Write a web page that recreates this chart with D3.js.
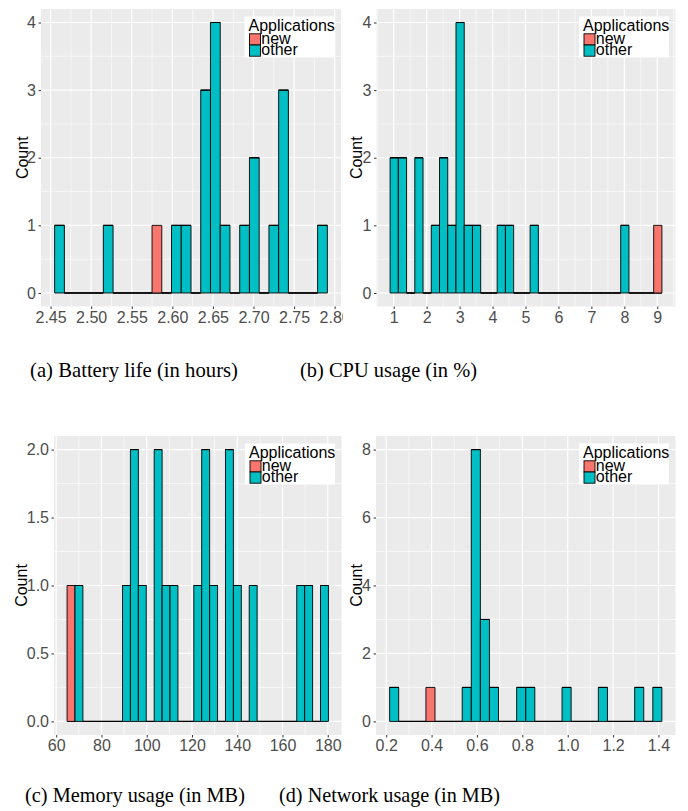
<!DOCTYPE html>
<html><head><meta charset="utf-8">
<script src="https://cdn.jsdelivr.net/npm/d3@7"></script>
<style>
body{margin:0;background:#fff}
svg text{font-family:"Liberation Sans",Arial,sans-serif}
</style></head><body>
<svg id="fig" width="688" height="811"></svg>
<script>
// histogram counts per bin (ggplot style, 2 groups)
const groups = ["new", "other"]
const colors = {new: "#F8766D", other: "#00BFC4"}

const batteryStart = 2.455, batteryWidth = 0.012
const batteryOther = [1,0,0,0,0,1,0,0,0,0,0,0,1,1,0,3,4,1,0,1,2,0,1,3,0,0,0,1]
const batteryNew   = [0,0,0,0,0,0,0,0,0,0,1,0,0,0,0,0,0,0,0,0,0,0,0,0,0,0,0,0]
const batteryXTicks = [2.45,2.50,2.55,2.60,2.65,2.70,2.75,2.80]
const batteryYTicks = [0,1,2,3,4]

const cpuStart = 0.89, cpuWidth = 0.25
const cpuOther = [2,2,0,2,0,1,2,1,4,1,1,0,0,1,1,0,0,1,0,0,0,0,0,0,0,0,0,0,1,0,0,0,0]
const cpuNew   = [0,0,0,0,0,0,0,0,0,0,0,0,0,0,0,0,0,0,0,0,0,0,0,0,0,0,0,0,0,0,0,0,1]
const cpuXTicks = [1,2,3,4,5,6,7,8,9]
const cpuYTicks = [0,1,2,3,4]

const memStart = 64.8, memWidth = 3.5
const memOther = [0,1,0,0,0,0,0,1,2,1,0,2,1,1,0,0,1,2,1,0,2,1,0,1,0,0,0,0,0,1,1,0,1]
const memNew   = [1,0,0,0,0,0,0,0,0,0,0,0,0,0,0,0,0,0,0,0,0,0,0,0,0,0,0,0,0,0,0,0,0]
const memXTicks = [60,80,100,120,140,160,180]
const memYTicks = [0,0.5,1,1.5,2]

const netStart = 0.215, netWidth = 0.04
const netOther = [1,0,0,0,0,0,0,0,1,8,3,1,0,0,1,1,0,0,0,1,0,0,0,1,0,0,0,1,0,1]
const netNew   = [0,0,0,0,1,0,0,0,0,0,0,0,0,0,0,0,0,0,0,0,0,0,0,0,0,0,0,0,0,0]
const netXTicks = [0.2,0.4,0.6,0.8,1.0,1.2,1.4]
const netYTicks = [0,2,4,6,8]

const captions = ["(a) Battery life (in hours)", "(b) CPU usage (in %)",
                  "(c) Memory usage (in MB)", "(d) Network usage (in MB)"]

const svg = d3.select("#fig")

// left column of the figure is cropped at the right edge
svg.append("clipPath").attr("id","leftcol").append("rect")
  .attr("x",0).attr("y",0).attr("width",343).attr("height",811)

const panels = [
  {start: batteryStart, w: batteryWidth, other: batteryOther, nw: batteryNew, xt: batteryXTicks, yt: batteryYTicks,
   xf: d3.format(".2f"), yf: d3.format("d"), box: [41, 341, 9, 306.5], countX: 27.5, clip: true},
  {start: cpuStart, w: cpuWidth, other: cpuOther, nw: cpuNew, xt: cpuXTicks, yt: cpuYTicks,
   xf: d3.format("d"), yf: d3.format("d"), box: [376.5, 675.5, 9, 306.5], countX: 362, clip: false},
  {start: memStart, w: memWidth, other: memOther, nw: memNew, xt: memXTicks, yt: memYTicks,
   xf: d3.format("d"), yf: d3.format(".1f"), box: [54, 341.5, 436, 735], countX: 27, clip: true},
  {start: netStart, w: netWidth, other: netOther, nw: netNew, xt: netXTicks, yt: netYTicks,
   xf: d3.format(".1f"), yf: d3.format("d"), box: [376, 675.5, 436, 735], countX: 362, clip: false}
]

function minors(ticks, dom){
  let step = ticks[1]-ticks[0], out = []
  for(let k=-3;k<ticks.length+3;k++){
    let v = ticks[0] + (k+0.5)*step
    if(v>dom[0] && v<dom[1]) out.push(v)
  }
  return out
}

panels.forEach(function(p){
  let [left,right,top,bottom] = p.box
  let g = svg.append("g")
  if(p.clip) g.attr("clip-path","url(#leftcol)")

  let n = p.other.length
  let lo = p.start, hi = p.start + n*p.w
  let x = d3.scaleLinear().domain([lo-(hi-lo)*0.05, hi+(hi-lo)*0.05]).range([left,right])
  let ymax = d3.max(p.other.map((d,i)=>d+p.nw[i]))
  let y = d3.scaleLinear().domain([-ymax*0.05, ymax*1.05]).range([bottom,top])

  g.append("rect").attr("x",left).attr("y",top).attr("width",right-left).attr("height",bottom-top)
    .attr("fill","#EBEBEB")

  let grid = g.append("g").attr("stroke","#fff").attr("fill","none")
  minors(p.xt, x.domain()).forEach(v=>grid.append("line").attr("x1",x(v)).attr("x2",x(v)).attr("y1",top).attr("y2",bottom).attr("stroke-width",0.6))
  minors(p.yt, y.domain()).forEach(v=>grid.append("line").attr("y1",y(v)).attr("y2",y(v)).attr("x1",left).attr("x2",right).attr("stroke-width",0.6))
  p.xt.forEach(v=>grid.append("line").attr("x1",x(v)).attr("x2",x(v)).attr("y1",top).attr("y2",bottom).attr("stroke-width",1.2))
  p.yt.forEach(v=>grid.append("line").attr("y1",y(v)).attr("y2",y(v)).attr("x1",left).attr("x2",right).attr("stroke-width",1.2))

  // stacked bars, "new" on top of "other"; zero bars still show their outline
  let bars = []
  p.other.forEach(function(c,i){
    bars.push({g:"other", x0:lo+i*p.w, y0:0, y1:c})
    bars.push({g:"new", x0:lo+i*p.w, y0:c, y1:c+p.nw[i]})
  })
  g.append("g").selectAll("path").data(bars).enter().append("path")
    .attr("d", d => `M${x(d.x0)},${y(d.y0)}H${x(d.x0+p.w)}V${y(d.y1)}H${x(d.x0)}Z`)
    .attr("fill", d => colors[d.g])
    .attr("stroke","#000").attr("stroke-width",0.9)

  let xa = g.append("g").attr("transform",`translate(0,${bottom})`)
    .call(d3.axisBottom(x).tickValues(p.xt).tickFormat(p.xf).tickSize(2.5).tickPadding(2.5))
  let ya = g.append("g").attr("transform",`translate(${left},0)`)
    .call(d3.axisLeft(y).tickValues(p.yt).tickFormat(p.yf).tickSize(2.5).tickPadding(2.5))
  ;[xa,ya].forEach(function(a){
    a.select(".domain").remove()
    a.selectAll(".tick line").attr("stroke","#333")
    a.selectAll("text").attr("fill","#4D4D4D").style("font-size","16px").style("font-family",'"Liberation Sans",Arial,sans-serif')
  })

  g.append("text").text("Count")
    .attr("transform",`translate(${p.countX},${(top+bottom)/2}) rotate(-90)`)
    .attr("text-anchor","middle").style("font-size","16px").attr("fill","#000")

  // legend
  let lx = right-96.5, ly = top+7.5
  let lg = g.append("g").attr("transform",`translate(${lx},${ly})`)
  lg.append("rect").attr("width",90).attr("height",41).attr("fill","#fff")
  lg.append("text").text("Applications").attr("x",4).attr("y",14.6).style("font-size","16px")
  groups.forEach(function(k,i){
    lg.append("rect").attr("x",5).attr("y",17.3+i*11.2).attr("width",11).attr("height",11.2)
      .attr("fill",colors[k]).attr("stroke","#000").attr("stroke-width",0.9)
    lg.append("text").text(k).attr("x",16.8).attr("y",27.8+i*10.8).style("font-size","16px")
  })
})

// sub-figure captions, LaTeX style
let capPos = [[30,238,377],[300,477,377],[25,245,802],[279,500,802]]
captions.forEach(function(c,i){
  let [a,b,base] = capPos[i]
  let t = svg.append("text").text(c).attr("x",(a+b)/2).attr("y",base)
    .attr("text-anchor","middle").style("font-family",'"Liberation Serif","Times New Roman",serif')
    .style("font-size","20px").attr("fill","#000")
  let w = t.node().getComputedTextLength()
  t.style("font-size", (20*(b-a)/w).toFixed(2)+"px")
})
</script>
</body></html>
